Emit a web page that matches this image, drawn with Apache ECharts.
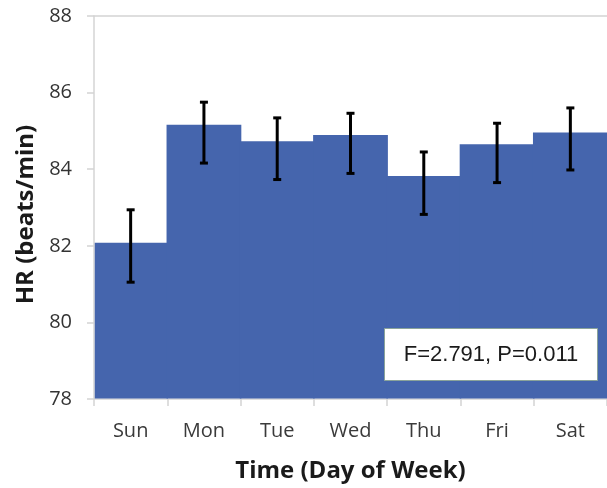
<!DOCTYPE html>
<html>
<head>
<meta charset="utf-8">
<script src="https://cdn.jsdelivr.net/npm/echarts@6/dist/echarts.min.js"></script>
<style>
  html, body { margin: 0; padding: 0; background: #fff; }
  #chart { width: 607px; height: 488px; }
</style>
</head>
<body>
<div id="chart"></div>
<script>
// Mean heart rate by day of week, with error bar limits
var days = ['Sun', 'Mon', 'Tue', 'Wed', 'Thu', 'Fri', 'Sat'];
var meanHR = [82.08, 85.16, 84.73, 84.89, 83.82, 84.65, 84.96];
var errHigh = [82.94, 85.75, 85.34, 85.46, 84.45, 85.20, 85.60];
var errLow = [81.05, 84.16, 83.73, 83.89, 82.82, 83.65, 83.98];
var yTicks = [78, 80, 82, 84, 86, 88];
var statText = 'F=2.791, P=0.011';

var axisGray = '#d4d4d4';
var barBlue = '#4565ad';
var labelFont = 'Open Sans';

var barData = days.map(function (d, i) { return [i, meanHR[i]]; });
var errData = days.map(function (d, i) { return [i, errLow[i], errHigh[i]]; });

var chart = echarts.init(document.getElementById('chart'), null, { renderer: 'canvas' });
chart.setOption({
  animation: false,
  backgroundColor: '#fff',
  grid: { left: 94, right: 0, top: 16, bottom: 89, containLabel: false },
  xAxis: [{
    type: 'category',
    data: days,
    boundaryGap: true,
    axisLine: { show: true, lineStyle: { color: axisGray, width: 1.5 } },
    axisTick: { show: true, length: 7, lineStyle: { color: axisGray, width: 1.5 } },
    axisLabel: { margin: 22, fontFamily: labelFont, fontSize: 20, color: '#3a3a3a' },
    name: 'Time (Day of Week)',
    nameLocation: 'middle',
    nameGap: 60,
    nameTextStyle: { fontFamily: labelFont, fontSize: 24, fontWeight: 'bold', color: '#1a1a1a' }
  }, {
    type: 'category',
    data: days,
    position: 'top',
    axisLine: { show: true, lineStyle: { color: axisGray, width: 1.5 } },
    axisTick: { show: false },
    axisLabel: { show: false }
  }],
  yAxis: {
    type: 'value',
    min: yTicks[0],
    max: yTicks[yTicks.length - 1],
    interval: 2,
    splitLine: { show: false },
    axisLine: { show: true, lineStyle: { color: axisGray, width: 1.5 } },
    axisTick: { show: true, length: 7, lineStyle: { color: axisGray, width: 1.5 } },
    axisLabel: { margin: 22, fontFamily: labelFont, fontSize: 20, color: '#333' },
    name: 'HR (beats/min)',
    nameLocation: 'middle',
    nameGap: 55,
    nameTextStyle: { fontFamily: labelFont, fontSize: 24, fontWeight: 'bold', color: '#1a1a1a', padding: [0, 14, 0, 0] }
  },
  series: [{
    // contiguous bars, each filling its whole category band (overlapping slightly to avoid seams)
    type: 'custom',
    data: barData,
    z: 2,
    renderItem: function (params, api) {
      var x = api.value(0);
      var top = api.coord([x, api.value(1)]);
      var base = api.coord([x, yTicks[0]]);
      var w = api.size([1, 0])[0];
      var left = top[0] - w / 2 + (params.dataIndex === 0 ? 0.75 : -0.75);
      var right = top[0] + w / 2 + 0.75;
      return {
        type: 'rect',
        shape: { x: left, y: top[1], width: right - left, height: base[1] - top[1] - 0.5 },
        style: { fill: barBlue }
      };
    }
  }, {
    type: 'custom',
    data: errData,
    z: 5,
    renderItem: function (params, api) {
      var x = api.value(0);
      var lo = api.coord([x, api.value(1)]);
      var hi = api.coord([x, api.value(2)]);
      var cap = 4;
      var st = { stroke: '#000', lineWidth: 3 };
      return {
        type: 'group',
        children: [
          { type: 'line', shape: { x1: hi[0], y1: hi[1], x2: lo[0], y2: lo[1] }, style: st },
          { type: 'line', shape: { x1: hi[0] - cap, y1: hi[1], x2: hi[0] + cap, y2: hi[1] }, style: st },
          { type: 'line', shape: { x1: lo[0] - cap, y1: lo[1], x2: lo[0] + cap, y2: lo[1] }, style: st }
        ]
      };
    }
  }],
  graphic: [{
    type: 'rect',
    z: 10,
    shape: { x: 384.5, y: 328.5, width: 213, height: 52 },
    style: { fill: '#fff', stroke: '#8aa39a', lineWidth: 1 }
  }, {
    type: 'text',
    z: 11,
    x: 491,
    y: 355,
    style: {
      text: statText,
      fontFamily: 'Liberation Sans',
      fontSize: 22,
      fill: '#1a1a1a',
      align: 'center',
      verticalAlign: 'middle'
    }
  }]
});
</script>
</body>
</html>
